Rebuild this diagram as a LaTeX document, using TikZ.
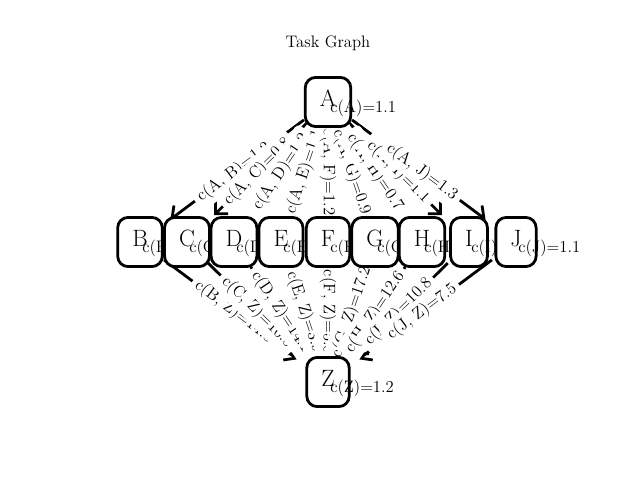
\documentclass[tikz,border=0pt]{standalone}
\usetikzlibrary{arrows.meta}
\begin{document}
\begin{tikzpicture}[x=0.72pt,y=-0.72pt,
  nd/.style={draw=black, line width=2pt, fill=white, rounded corners=7.5pt,
    font=\fontsize{17}{19}\selectfont, inner xsep=10.5pt, inner ysep=0pt,
    text height=21.1pt, text depth=14.3pt},
  cost/.style={anchor=base west, inner sep=0pt, font=\fontsize{12}{14}\selectfont},
  elab/.style={fill=white, rounded corners=3pt, inner sep=3.6pt,
    font=\fontsize{12}{14}\selectfont},
  edge/.style={line width=2pt, -{Straight Barb[length=6.5pt,width=13pt]},
    shorten <=21.6pt, shorten >=27.4pt},
  ttl/.style={font=\fontsize{12}{14}\selectfont, inner sep=0pt}
]
\useasboundingbox (0,0) rectangle (640,480);
\node[ttl] (title) at (328,43) {Task Graph};
% positions
\coordinate (pA) at (328,102);
\coordinate (pB) at (140,242);
\coordinate (pC) at (187,242);
\coordinate (pD) at (234,242);
\coordinate (pE) at (281,242);
\coordinate (pF) at (328,242);
\coordinate (pG) at (375,242);
\coordinate (pH) at (422,242);
\coordinate (pI) at (469,242);
\coordinate (pJ) at (516,242);
\coordinate (pZ) at (328,382);
% edges
\foreach \t in {B,C,D,E,F,G,H,I,J}{
  \draw[edge] (pA) -- (p\t);
}
\foreach \s in {B,C,D,E,F,G,H,I,J}{
  \draw[edge] (p\s) -- (pZ);
}
% edge labels
\path (pA) -- node[elab, rotate=36.67] (lAB) {c(A, B)=1.2} (pB);
\path (pA) -- node[elab, rotate=44.80] (lAC) {c(A, C)=0.8} (pC);
\path (pA) -- node[elab, rotate=56.12] (lAD) {c(A, D)=1.2} (pD);
\path (pA) -- node[elab, rotate=71.44] (lAE) {c(A, E)=1.1} (pE);
\path (pA) -- node[elab, rotate=-90] (lAF) {c(A, F)=1.2} (pF);
\path (pA) -- node[elab, rotate=-71.44] (lAG) {c(A, G)=0.9} (pG);
\path (pA) -- node[elab, rotate=-56.12] (lAH) {c(A, H)=0.7} (pH);
\path (pA) -- node[elab, rotate=-44.80] (lAI) {c(A, I)=1.1} (pI);
\path (pA) -- node[elab, rotate=-36.67] (lAJ) {c(A, J)=1.3} (pJ);
\path (pB) -- node[elab, rotate=-36.67] (lBZ) {c(B, Z)=14.3} (pZ);
\path (pC) -- node[elab, rotate=-44.80] (lCZ) {c(C, Z)=10.5} (pZ);
\path (pD) -- node[elab, rotate=-56.12] (lDZ) {c(D, Z)=14.1} (pZ);
\path (pE) -- node[elab, rotate=-71.44] (lEZ) {c(E, Z)=3.9} (pZ);
\path (pF) -- node[elab, rotate=-90] (lFZ) {c(F, Z)=5.6} (pZ);
\path (pG) -- node[elab, rotate=71.44] (lGZ) {c(G, Z)=17.2} (pZ);
\path (pH) -- node[elab, rotate=56.12] (lHZ) {c(H, Z)=12.6} (pZ);
\path (pI) -- node[elab, rotate=44.80] (lIZ) {c(I, Z)=10.8} (pZ);
\path (pJ) -- node[elab, rotate=36.67] (lJZ) {c(J, Z)=7.5} (pZ);
% nodes with cost labels
\node[nd] (A) at (pA) {A};
\node[cost] (cA) at ([xshift=1.5pt,yshift=-7.2pt]pA) {c(A)=1.1};
\node[nd] (B) at (pB) {B};
\node[cost] (cB) at ([xshift=1.5pt,yshift=-7.2pt]pB) {c(B)=1.0};
\node[nd] (C) at (pC) {C};
\node[cost] (cC) at ([xshift=1.5pt,yshift=-7.2pt]pC) {c(C)=1.2};
\node[nd] (D) at (pD) {D};
\node[cost] (cD) at ([xshift=1.5pt,yshift=-7.2pt]pD) {c(D)=0.9};
\node[nd] (E) at (pE) {E};
\node[cost] (cE) at ([xshift=1.5pt,yshift=-7.2pt]pE) {c(E)=1.1};
\node[nd] (F) at (pF) {F};
\node[cost] (cF) at ([xshift=1.5pt,yshift=-7.2pt]pF) {c(F)=1.3};
\node[nd] (G) at (pG) {G};
\node[cost] (cG) at ([xshift=1.5pt,yshift=-7.2pt]pG) {c(G)=1.0};
\node[nd] (H) at (pH) {H};
\node[cost] (cH) at ([xshift=1.5pt,yshift=-7.2pt]pH) {c(H)=0.8};
\node[nd] (I) at (pI) {I};
\node[cost] (cI) at ([xshift=1.5pt,yshift=-7.2pt]pI) {c(I)=1.2};
\node[nd] (J) at (pJ) {J};
\node[cost] (cJ) at ([xshift=1.5pt,yshift=-7.2pt]pJ) {c(J)=1.1};
\node[nd] (Z) at (pZ) {Z};
\node[cost] (cZ) at ([xshift=1.5pt,yshift=-7.2pt]pZ) {c(Z)=1.2};
\end{tikzpicture}
\end{document}
